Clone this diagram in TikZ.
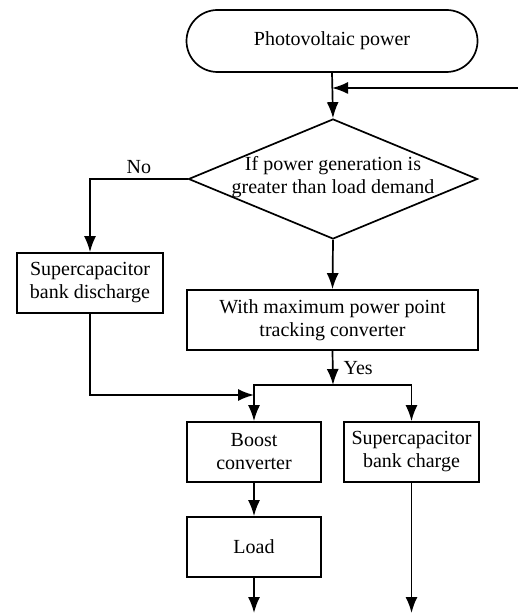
\documentclass[tikz,border=0pt]{standalone}
\usepackage{fontspec}
\setmainfont{Liberation Serif}
\usetikzlibrary{arrows.meta,shapes.geometric}

\begin{document}
\begin{tikzpicture}[x=0.5pt, y=-0.5pt, >={Latex[length=8pt,width=6pt]},
  font=\fontsize{10}{11.5}\selectfont, line width=0.85pt,
  box/.style={draw, rectangle, align=center, inner sep=0pt, minimum height=30pt},
  term/.style={draw, rectangle, rounded corners=15.5pt, minimum width=145.5pt, minimum height=31pt},
  decision/.style={draw, diamond, inner sep=0pt, minimum width=144.5pt, minimum height=60pt}]

\useasboundingbox (0,0) rectangle (518,613);

% start and test
\node[term] (pv) at (332,41) {Photovoltaic power};
\node[decision] (dec) at (333,179) {};
\node[align=center, inner sep=0pt] (decText) at (333,177) {If power generation is\\greater than load demand};

% boxes
\node[box, minimum width=73pt] (dis) at (90,283) {Supercapacitor\\bank discharge};
\node[box, minimum width=145.5pt] (mppt) at (332.5,320) {With maximum power point\\tracking converter};
\node[box, minimum width=67pt] (boost) at (254,452) {Boost\\converter};
\node[box, minimum width=67.5pt] (chg) at (411.5,452) {Supercapacitor\\bank charge};
\node[box, minimum width=67pt] (load) at (254,547) {Load};

% free ends
\coordinate (fb) at (518,88);
\coordinate (split) at (333,385);
\coordinate (merge) at (254,395);
\coordinate (outA) at (254,613);
\coordinate (outB) at (411.5,613);

% connectors
\draw[->] (pv.south) -- (dec.north);
\draw[->] (fb) -- (fb -| pv.south);
\draw[->] (dec.west) -| (dis.north) node[pos=0.25, above, inner sep=2pt] {No};
\draw[->] (dec.south) -- (mppt.north);
\draw[->] (mppt.south) -- (split) node[midway, right, inner sep=5pt] {Yes};
\draw[->] (split) -| (boost.north);
\draw[->] (split) -| (chg.north);
\draw[->] (dis.south) |- (merge);
\draw[->] (boost.south) -- (load.north);
\draw[->] (load.south) -- (outA);
\draw[->] (chg.south) -- (outB);

\end{tikzpicture}
\end{document}
